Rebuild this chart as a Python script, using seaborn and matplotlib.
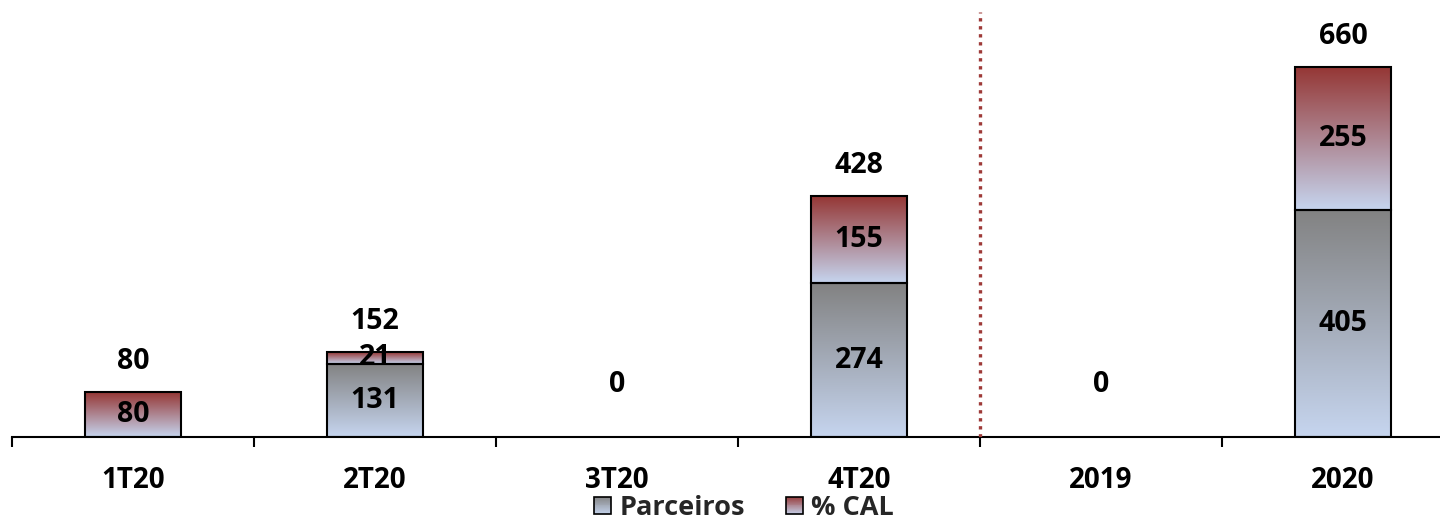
import numpy as np
import pandas as pd
import seaborn as sns
import matplotlib.pyplot as plt
from matplotlib.colors import LinearSegmentedColormap
from matplotlib.patches import Rectangle
from matplotlib.legend_handler import HandlerBase

# data
categories = ['1T20', '2T20', '3T20', '4T20', '2019', '2020']
parceiros = [0, 131, 0, 274, 0, 405]
cal = [80, 21, 0, 155, 0, 255]
totals = [80, 152, 0, 428, 0, 660]
series_names = ['Parceiros', '% CAL']

df = pd.DataFrame({'periodo': categories, 'parceiros': parceiros, 'cal': cal, 'total': totals})

sns.set_theme(style='white')
plt.rcParams['font.family'] = ['Open Sans', 'DejaVu Sans']
plt.rcParams['font.weight'] = 'bold'

light = '#C6D5EF'
cmap_parc = LinearSegmentedColormap.from_list('parc', [light, '#828282'])
cmap_cal = LinearSegmentedColormap.from_list('cal', [light, '#953735'])

fig = plt.figure(figsize=(14.4, 5.2), dpi=100)
ax = fig.add_axes([12 / 1440, 83 / 520, 6 * 242 / 1440, 425 / 520])

# stacked bars: parceiros first, % CAL on top of it
sns.barplot(data=df, x='periodo', y='parceiros', order=categories, width=0.4,
            errorbar=None, color='white', edgecolor='black', linewidth=1.5, ax=ax)
sns.barplot(data=df, x='periodo', y='cal', order=categories, width=0.4,
            errorbar=None, bottom=df['parceiros'].values, color='white',
            edgecolor='black', linewidth=1.5, ax=ax)

# vertical gradient fill inside each bar segment
grad = np.linspace(0, 1, 256).reshape(-1, 1)
for container, cmap, vals in zip(ax.containers, [cmap_parc, cmap_cal], [parceiros, cal]):
    for bar, v in zip(container, vals):
        h = bar.get_height()
        if h <= 0:
            bar.set_visible(False)
            continue
        x0, y0, w = bar.get_x(), bar.get_y(), bar.get_width()
        ax.imshow(grad, cmap=cmap, origin='lower', aspect='auto',
                  extent=(x0, x0 + w, y0, y0 + h), zorder=1.5, interpolation='bilinear')
        bar.set_facecolor('none')
        bar.set_zorder(2)
        ax.text(x0 + w / 2, y0 + h / 2, f'{v}', ha='center', va='center',
                fontsize=20.5, fontweight='bold', color='black', zorder=4)

# totals above the bars
for i, tot in enumerate(totals):
    base = parceiros[i] + cal[i]
    off = 22 if tot > 0 else 38
    ax.annotate(f'{tot}', xy=(i, base), xytext=(0, off), textcoords='offset points',
                ha='center', va='center', fontsize=20.5, fontweight='bold', color='black')

# dotted separator between quarters and years
ax.axvline(3.5, color='#9E3A38', lw=2.4, linestyle=(0, (1, 1.4)), zorder=3)

ax.set_xlim(-0.5, 5.5)
ax.set_ylim(0, 758)
ax.set_yticks([])
ax.set_xlabel('')
ax.set_ylabel('')
ax.set_xticks(range(len(categories)))
ax.set_xticklabels(categories, fontsize=20, fontweight='bold')
ax.tick_params(axis='x', which='major', length=0, pad=21, colors='black')
ax.set_xticks(np.arange(-0.5, len(categories), 1), minor=True)
ax.tick_params(axis='x', which='minor', bottom=True, length=7, width=1.5,
               color='black', direction='out')
sns.despine(ax=ax, left=True)
ax.spines['bottom'].set_color('black')
ax.spines['bottom'].set_linewidth(1.5)


class GradientHandler(HandlerBase):
    def __init__(self, cmap):
        super().__init__()
        self.cmap = cmap

    def create_artists(self, legend, orig_handle, xdescent, ydescent, width,
                       height, fontsize, trans):
        side = min(width, height)
        x0 = -xdescent + (width - side) / 2
        y0 = -ydescent + (height - side) / 2
        n = 20
        arts = []
        for k in range(n):
            arts.append(Rectangle((x0, y0 + side * k / n), side, side / n * 1.05,
                                  facecolor=self.cmap((k + 0.5) / n), edgecolor='none',
                                  transform=trans))
        arts.append(Rectangle((x0, y0), side, side, facecolor='none',
                              edgecolor='black', lw=1.2, transform=trans))
        return arts


h_parc = Rectangle((0, 0), 1, 1)
h_cal = Rectangle((0, 0), 1, 1)
fig.legend([h_parc, h_cal], series_names, loc='center',
           bbox_to_anchor=(744 / 1440, 12 / 520), ncol=2, frameon=False,
           prop={'size': 19.5, 'weight': 'bold'},
           handler_map={h_parc: GradientHandler(cmap_parc), h_cal: GradientHandler(cmap_cal)},
           handlelength=0.65, handleheight=0.65, handletextpad=0.3, columnspacing=1.5)

fig.savefig('out.png', dpi=100)
